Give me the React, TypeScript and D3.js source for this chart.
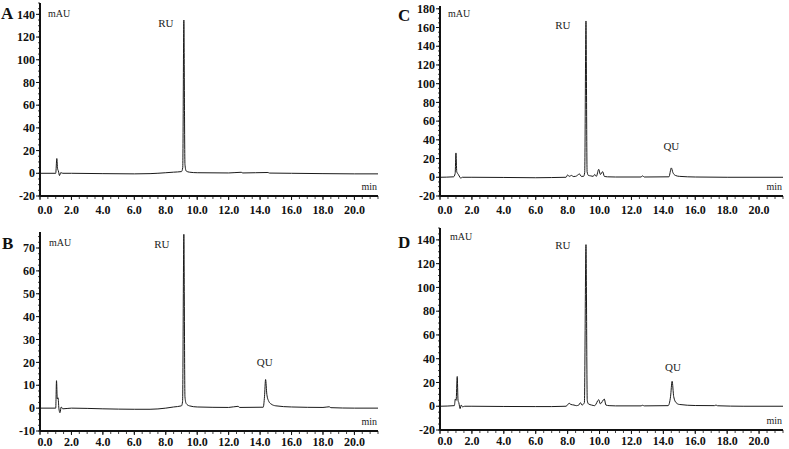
import React from 'react';
import * as d3 from 'd3';

// ---- data (time in min, absorbance in mAU) ----
const traceA: [number, number][] = [
  [0, 0], [1.0, 0], [1.07, 13], [1.12, 4], [1.17, 2], [1.24, -2], [1.32, 0.6], [1.45, 0], [2, 0], [4, -0.3],
  [6, -0.5], [7, -0.3], [8, 0.5], [8.5, 1], [9.0, 1.5], [9.08, 5], [9.15, 135], [9.22, 8], [9.3, 2],
  [9.5, 1], [10, 0.5], [12, 0.3], [12.8, 0.9], [12.9, 0.3], [14.5, 0.7], [14.6, 0.2], [16, 0],
  [18, -0.3], [20, -0.5], [21.5, -0.5],
];
const traceB: [number, number][] = [
  [0, 0], [1.0, 0], [1.05, 12], [1.1, 4], [1.15, 4.5], [1.2, 0], [1.27, -2], [1.35, 0.5], [1.45, -0.3],
  [2, 0], [4, -0.3], [6, -0.5], [7, -0.5], [8, 0], [8.5, 0.5], [9.0, 1], [9.07, 3], [9.15, 76],
  [9.22, 5], [9.3, 2], [9.5, 1], [10, 0.5], [12, 0.3], [12.6, 0.8], [12.7, 0.3], [14.2, 0.4],
  [14.28, 5], [14.35, 12.5], [14.43, 6], [14.55, 3], [14.7, 1.8], [15, 1], [16, 0.5], [18, 0.3],
  [18.4, 0.6], [18.5, 0.2], [20, 0], [21.5, 0],
];
const traceC: [number, number][] = [
  [0, 0], [0.85, 0.5], [0.95, 4], [1.0, 26], [1.05, 6], [1.15, 3], [1.25, 0], [1.3, -1], [1.4, 0],
  [2, 0], [4, -0.2], [6, -0.5], [7, -0.3], [7.9, 0], [8.0, 2.5], [8.1, 1], [8.25, 2], [8.35, 0.8],
  [8.5, 1], [8.75, 3.5], [8.85, 1], [9.0, 1], [9.07, 5], [9.15, 167], [9.22, 6], [9.3, 2],
  [9.45, 1.5], [9.6, 1], [9.7, 3], [9.8, 1], [9.95, 8.5], [10.05, 3], [10.2, 6], [10.3, 1],
  [10.5, 0.5], [11, 0.3], [12.6, 0.3], [12.7, 1.5], [12.8, 0.3], [14.35, 0.5], [14.5, 10],
  [14.6, 5], [14.75, 2], [15, 1], [16, 0.3], [18, 0], [21.5, 0],
];
const traceD: [number, number][] = [
  [0, 0], [0.9, 0.5], [0.96, 6], [1.01, 5], [1.08, 25], [1.13, 5], [1.18, 3], [1.26, -2], [1.33, 1],
  [1.41, -0.5], [1.55, 0], [2, 0], [4, -0.2], [6, -0.3], [7, -0.3], [7.9, 0], [8.1, 2.5], [8.2, 1.5],
  [8.4, 1], [8.55, 0.5], [8.7, 1], [8.8, 3], [8.9, 1], [9.05, 3], [9.15, 136], [9.23, 5], [9.3, 2],
  [9.5, 1], [9.7, 0.5], [9.95, 5.5], [10.05, 2], [10.3, 6], [10.4, 1], [10.6, 0.5], [11, 0.3],
  [12.6, 0.3], [12.7, 0.8], [12.8, 0.3], [14.3, 0.5], [14.45, 8], [14.55, 21], [14.65, 8],
  [14.8, 3], [15, 1.5], [16, 0.6], [17.2, 0.5], [17.3, 1], [17.4, 0.4], [19, 0], [21.5, 0],
];

const xTicks: number[] = [0, 2, 4, 6, 8, 10, 12, 14, 16, 18, 20];
const yTicksA: number[] = [-20, 0, 20, 40, 60, 80, 100, 120, 140];
const yTicksB: number[] = [-10, 0, 10, 20, 30, 40, 50, 60, 70];
const yTicksC: number[] = [-20, 0, 20, 40, 60, 80, 100, 120, 140, 160, 180];
const yTicksD: number[] = [-20, 0, 20, 40, 60, 80, 100, 120, 140];
const panelLetters: string[] = ['A', 'B', 'C', 'D'];

const SERIF = "'Liberation Serif', 'Times New Roman', serif";

type PanelProps = {
  letter: string;
  trace: [number, number][];
  yTicks: number[];
  yMinorStep: number;
  xRange: [number, number];
  yDomain: [number, number];
  yRange: [number, number];
  xLabelDy: number;
  letterPos: [number, number];
  mauPos: [number, number];
  labels: { text: string; t: number; v: number }[];
};

function Panel(p: PanelProps) {
  const x = d3.scaleLinear().domain([0, 21.5]).range(p.xRange);
  const y = d3.scaleLinear().domain(p.yDomain).range(p.yRange);
  const line = d3
    .line<[number, number]>()
    .x((d) => x(d[0]))
    .y((d) => y(d[1]))
    .curve(d3.curveMonotoneX);
  const x0 = p.xRange[0];
  const x1 = p.xRange[1];
  const yb = p.yRange[0];
  const yt = p.yRange[1];
  const xMinor = d3.range(0, 21.5 + 1e-9, 0.5);
  const yMinor = d3.range(p.yDomain[0], p.yDomain[1] + 1e-9, p.yMinorStep);
  return (
    <g>
      <text x={p.letterPos[0]} y={p.letterPos[1]} fontFamily={SERIF} fontWeight="bold" fontSize={17} fill="#111">
        {p.letter}
      </text>
      <text x={p.mauPos[0]} y={p.mauPos[1]} fontFamily={SERIF} fontSize={10} fill="#222">
        mAU
      </text>
      {/* trace */}
      <path d={line(p.trace) || ''} fill="none" stroke="#1a1a1a" strokeWidth={1} />
      {/* y axis */}
      <line x1={x0} x2={x0} y1={yb} y2={yt} stroke="#111" strokeWidth={2} />
      {yMinor.map((v, i) => (
        <line key={'ym' + i} x1={x0 - 2} x2={x0} y1={y(v)} y2={y(v)} stroke="#111" strokeWidth={0.8} />
      ))}
      {p.yTicks.map((v) => (
        <g key={'y' + v}>
          <line x1={x0 - 4} x2={x0} y1={y(v)} y2={y(v)} stroke="#111" strokeWidth={1} />
          <text
            x={x0 - 5}
            y={y(v)}
            dy="0.35em"
            textAnchor="end"
            fontFamily={SERIF}
            fontWeight="bold"
            fontSize={12}
            fill="#111"
          >
            {v}
          </text>
        </g>
      ))}
      {/* x axis */}
      <line x1={x0} x2={x1} y1={yb} y2={yb} stroke="#111" strokeWidth={2.2} />
      {xMinor.map((t, i) => (
        <line key={'xm' + i} x1={x(t)} x2={x(t)} y1={yb} y2={yb + 3} stroke="#111" strokeWidth={0.8} />
      ))}
      {xTicks.map((t) => (
        <g key={'x' + t}>
          <line x1={x(t)} x2={x(t)} y1={yb} y2={yb + 4} stroke="#111" strokeWidth={1} />
          <text
            x={x(t) + (t === 0 ? 5 : 0)}
            y={yb + p.xLabelDy}
            textAnchor="middle"
            fontFamily={SERIF}
            fontWeight="bold"
            fontSize={12}
            fill="#111"
          >
            {t.toFixed(1)}
          </text>
        </g>
      ))}
      <text x={x1 - 1} y={yb - 6} textAnchor="end" fontFamily={SERIF} fontSize={10} fill="#222">
        min
      </text>
      {p.labels.map((l) => (
        <text
          key={l.text}
          x={x(l.t)}
          y={y(l.v)}
          textAnchor="middle"
          fontFamily={SERIF}
          fontSize={11}
          fill="#222"
        >
          {l.text}
        </text>
      ))}
    </g>
  );
}

export default function App() {
  return (
    <svg
      width={789}
      height={449}
      viewBox="0 0 789 449"
      style={{ position: 'absolute', left: 0, top: 0, background: '#fff' }}
    >
      <rect x={0} y={0} width={789} height={449} fill="#fff" />
      <Panel
        letter={panelLetters[0]}
        trace={traceA}
        yTicks={yTicksA}
        yMinorStep={5}
        xRange={[40, 378]}
        yDomain={[-20, 150]}
        yRange={[196, 3]}
        xLabelDy={18}
        letterPos={[1, 19]}
        mauPos={[48, 17]}
        labels={[{ text: 'RU', t: 8.0, v: 129 }]}
      />
      <Panel
        letter={panelLetters[1]}
        trace={traceB}
        yTicks={yTicksB}
        yMinorStep={2.5}
        xRange={[40, 378]}
        yDomain={[-10, 77]}
        yRange={[431, 232]}
        xLabelDy={15}
        letterPos={[2, 249]}
        mauPos={[49, 246]}
        labels={[
          { text: 'RU', t: 7.75, v: 70 },
          { text: 'QU', t: 14.3, v: 18.5 },
        ]}
      />
      <Panel
        letter={panelLetters[2]}
        trace={traceC}
        yTicks={yTicksC}
        yMinorStep={5}
        xRange={[440, 783]}
        yDomain={[-20, 183]}
        yRange={[196, 6]}
        xLabelDy={18}
        letterPos={[398, 21]}
        mauPos={[448, 17]}
        labels={[
          { text: 'RU', t: 7.7, v: 158 },
          { text: 'QU', t: 14.5, v: 29 },
        ]}
      />
      <Panel
        letter={panelLetters[3]}
        trace={traceD}
        yTicks={yTicksD}
        yMinorStep={5}
        xRange={[440, 783]}
        yDomain={[-20, 150]}
        yRange={[430, 228]}
        xLabelDy={15}
        letterPos={[398, 248]}
        mauPos={[450, 240]}
        labels={[
          { text: 'RU', t: 7.7, v: 132 },
          { text: 'QU', t: 14.6, v: 30 },
        ]}
      />
    </svg>
  );
}
